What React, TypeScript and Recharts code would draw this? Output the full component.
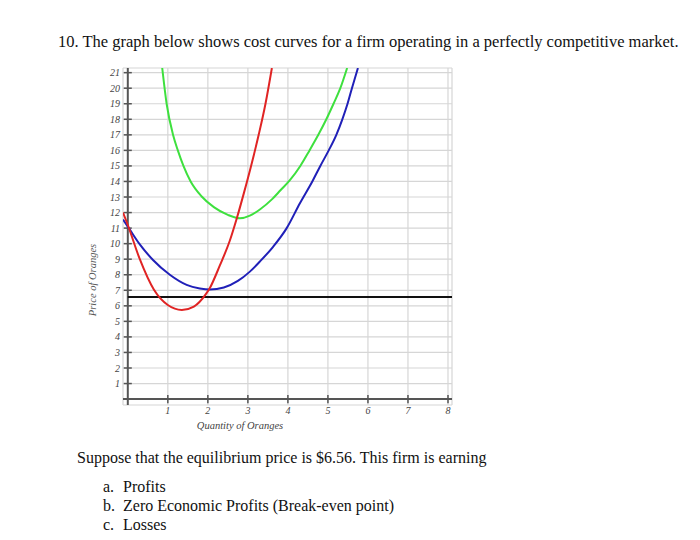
import React from "react"
import {
  LineChart,
  Line,
  XAxis,
  YAxis,
  CartesianGrid,
  ReferenceLine,
} from "recharts"

// Cost curves (quantity, price)
const mcCurve = [
  { x: -0.12, y: 12.0 }, { x: 0.0, y: 11.2 }, { x: 0.3, y: 9.0 }, { x: 0.65, y: 7.05 },
  { x: 1.0, y: 6.05 }, { x: 1.35, y: 5.73 }, { x: 1.65, y: 5.95 }, { x: 1.95, y: 6.75 },
  { x: 2.05, y: 7.15 }, { x: 2.3, y: 8.6 }, { x: 2.55, y: 10.2 }, { x: 2.72, y: 11.6 },
  { x: 2.9, y: 13.25 }, { x: 3.08, y: 15.0 }, { x: 3.27, y: 17.0 }, { x: 3.44, y: 19.0 },
  { x: 3.6, y: 21.3 },
]

const blueCurve = [
  { x: -0.12, y: 11.55 }, { x: 0.05, y: 10.9 }, { x: 0.3, y: 9.95 }, { x: 0.63, y: 8.95 },
  { x: 1.05, y: 8.0 }, { x: 1.47, y: 7.35 }, { x: 1.8, y: 7.12 }, { x: 2.05, y: 7.05 },
  { x: 2.4, y: 7.18 }, { x: 2.75, y: 7.6 }, { x: 3.05, y: 8.2 }, { x: 3.3, y: 8.85 },
  { x: 3.63, y: 9.8 }, { x: 3.97, y: 11.0 }, { x: 4.3, y: 12.6 }, { x: 4.62, y: 14.05 },
  { x: 4.81, y: 15 }, { x: 5.02, y: 16 }, { x: 5.21, y: 17 }, { x: 5.36, y: 18 },
  { x: 5.49, y: 19 }, { x: 5.6, y: 20 }, { x: 5.75, y: 21.3 },
]

const greenCurve = [
  { x: 0.86, y: 21.3 }, { x: 0.97, y: 19 }, { x: 1.13, y: 17 }, { x: 1.25, y: 16 },
  { x: 1.39, y: 15 }, { x: 1.57, y: 14 }, { x: 1.84, y: 13.05 }, { x: 2.15, y: 12.35 },
  { x: 2.5, y: 11.85 }, { x: 2.8, y: 11.63 }, { x: 3.05, y: 11.8 }, { x: 3.3, y: 12.2 },
  { x: 3.6, y: 12.85 }, { x: 3.82, y: 13.45 }, { x: 4.04, y: 14.05 }, { x: 4.31, y: 15 },
  { x: 4.54, y: 16 }, { x: 4.76, y: 17 }, { x: 4.96, y: 18 }, { x: 5.14, y: 19 },
  { x: 5.31, y: 20 }, { x: 5.48, y: 21.3 },
]

const price = 6.56
const xTicks = [1, 2, 3, 4, 5, 6, 7, 8]
const yTicks = [1, 2, 3, 4, 5, 6, 7, 8, 9, 10, 11, 12, 13, 14, 15, 16, 17, 18, 19, 20, 21]
const xDomain = [-0.12, 8.1]
const yDomain = [-0.38, 21.3]

const serif = "'Liberation Serif', 'Times New Roman', serif"
const axisColor = "#555"

const XTick = ({ x, y, payload }: any) => (
  <text x={x} y={y} dy={9} textAnchor="middle" fontFamily={serif} fontStyle="italic" fontSize={10} fill="#444">
    {payload.value}
  </text>
)

const YTick = ({ x, y, payload }: any) => (
  <text x={x} y={y} dy={3.5} textAnchor="end" fontFamily={serif} fontStyle="italic" fontSize={10} fill="#444">
    {payload.value}
  </text>
)

const itemLabel = { display: "inline-block", width: 20, paddingLeft: 26 }

export default function App() {
  return (
    <div style={{ position: "absolute", left: 0, top: 0, width: 700, height: 540, background: "#fff", overflow: "hidden" }}>
      <div style={{ position: "absolute", left: 58, top: 32, fontFamily: serif, fontSize: 16.5, color: "#111", whiteSpace: "nowrap" }}>
        10. The graph below shows cost curves for a firm operating in a perfectly competitive market.
      </div>

      <div style={{ position: "absolute", left: 0, top: 0 }}>
        <LineChart width={470} height={440} margin={{ top: 68, right: 18, bottom: 5, left: 83 }}>
          <CartesianGrid stroke="#d6d6d6" strokeWidth={1.2} />
          <XAxis
            type="number"
            dataKey="x"
            domain={xDomain}
            ticks={xTicks}
            interval={0}
            allowDataOverflow
            axisLine={false}
            tickLine={false}
            tickSize={0}
            tickMargin={0}
            height={30}
            tick={<XTick />}
          />
          <YAxis
            type="number"
            dataKey="y"
            domain={yDomain}
            ticks={yTicks}
            interval={0}
            allowDataOverflow
            axisLine={false}
            tickLine={false}
            tickSize={0}
            tickMargin={3}
            width={40}
            tick={<YTick />}
          />
          <ReferenceLine y={0} stroke={axisColor} strokeWidth={2} />
          <ReferenceLine x={0} stroke={axisColor} strokeWidth={2} />
          {xTicks.map((t) => (
            <ReferenceLine key={`xt${t}`} segment={[{ x: t, y: -0.26 }, { x: t, y: 0.26 }]} stroke={axisColor} strokeWidth={1.5} />
          ))}
          {yTicks.map((t) => (
            <ReferenceLine key={`yt${t}`} segment={[{ x: -0.1, y: t }, { x: 0.1, y: t }]} stroke={axisColor} strokeWidth={1.5} />
          ))}
          <ReferenceLine segment={[{ x: 0, y: price }, { x: 8.1, y: price }]} stroke="#111" strokeWidth={2} />
          <Line data={greenCurve} dataKey="y" type="monotone" stroke="#3ee03e" strokeWidth={2} dot={false} isAnimationActive={false} />
          <Line data={blueCurve} dataKey="y" type="monotone" stroke="#2020b8" strokeWidth={2} dot={false} isAnimationActive={false} />
          <Line data={mcCurve} dataKey="y" type="monotone" stroke="#e02424" strokeWidth={2} dot={false} isAnimationActive={false} />
        </LineChart>
      </div>

      <div style={{ position: "absolute", left: 92, top: 280, transform: "translate(-50%, -50%) rotate(-90deg)", fontFamily: serif, fontStyle: "italic", fontSize: 10.5, color: "#555", whiteSpace: "nowrap" }}>
        Price of Oranges
      </div>
      <div style={{ position: "absolute", left: 240, top: 425, transform: "translate(-50%, -50%)", fontFamily: serif, fontStyle: "italic", fontSize: 10.5, color: "#444", whiteSpace: "nowrap" }}>
        Quantity of Oranges
      </div>

      <div style={{ position: "absolute", left: 77, top: 448, fontFamily: serif, fontSize: 16, color: "#111", lineHeight: "19px", whiteSpace: "nowrap" }}>
        <div>Suppose that the equilibrium price is $6.56. This firm is earning</div>
        <div style={{ marginTop: 10 }}>
          <div><span style={itemLabel}>a.</span>Profits</div>
          <div><span style={itemLabel}>b.</span>Zero Economic Profits (Break-even point)</div>
          <div><span style={itemLabel}>c.</span>Losses</div>
        </div>
      </div>
    </div>
  )
}
